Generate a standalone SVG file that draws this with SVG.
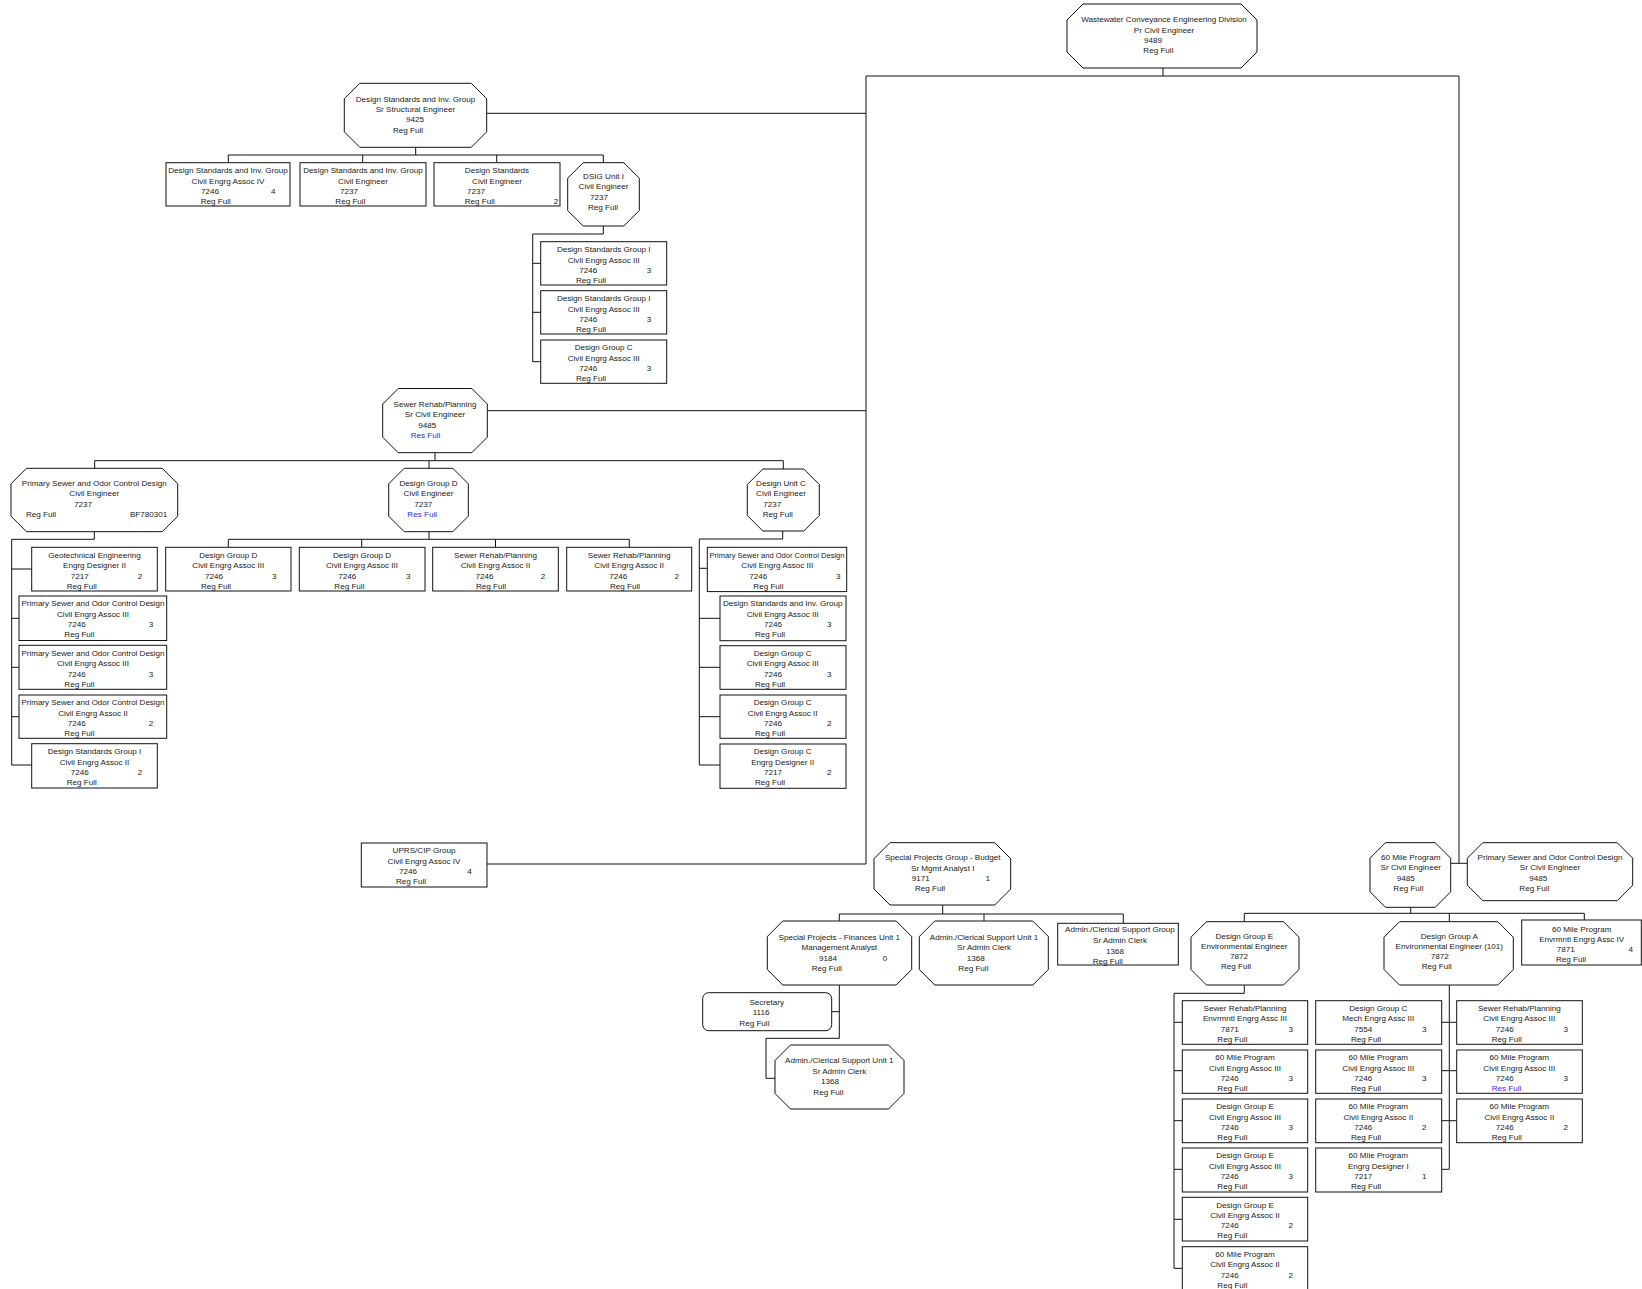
<svg xmlns="http://www.w3.org/2000/svg" width="1642" height="1289" viewBox="0 0 1642 1289">
<style>
.n rect,.n polygon{fill:#fff;stroke:#111;stroke-width:1}
#conn path{fill:none;stroke:#111;stroke-width:1}
text{font-family:"Liberation Sans",Arial,sans-serif;font-size:8.1px;fill:#1a1a1a}
.m{text-anchor:middle}
.b{fill:#2b2bff}
</style>
<rect width="1642" height="1289" fill="#fff"/>
<g id="conn">
<path d="M1163,68V76M866,76H1459M866,76V864M1459,76V863.3"/>
<path d="M486.7,113.3H866M487.3,410.7H866M487,864H866M1450.7,863.3H1467.3"/>
<path d="M415.7,147.3V155M228.3,155H603.3M228.3,155V162.7M362.7,155V162.7M496.7,155V162.7M603.3,155V162.7"/>
<path d="M603.3,226V234H532.7V361.7M532.7,263.3H540.7M532.7,312.3H540.7M532.7,361.7H540.7"/>
<path d="M435,452.7V460.7M94.7,460.7H783.3M94.7,460.7V468.3M429,460.7V468.3M783.3,460.7V469"/>
<path d="M94.3,531.7V539.3H11.7V765M11.7,569H31.7M11.7,618.3H19M11.7,667.3H19M11.7,716.7H19M11.7,765H31.7"/>
<path d="M429,531.7V539.3M228.3,539.3H629.3M228.3,539.3V547.3M361.7,539.3V547.3M495.5,539.3V547.3M629.3,539.3V547.3"/>
<path d="M782.7,531V539H699.3V765M699.3,568.3H707.3M699.3,618.3H720M699.3,667.3H720M699.3,716.7H720M699.3,765H720"/>
<path d="M942.7,905V914M839.3,914H1123.3M839.3,914V921M984,914V921M1123.3,914V923.3"/>
<path d="M839.3,985V1038.3H766V1078.3H775M831.7,1011.7H839.3"/>
<path d="M1410.7,907.3V913.3M1244.3,913.3H1584.3M1244.3,913.3V921.7M1449.3,913.3V921.7M1584.3,913.3V920"/>
<path d="M1244.3,985V993.3H1174V1268.3M1174,1022.3H1182.3M1174,1070.7H1182.3M1174,1120.7H1182.3M1174,1169.3H1182.3M1174,1219.3H1182.3M1174,1268.3H1182.3"/>
<path d="M1449.3,985V1169.3M1441.7,1022.3H1456.7M1441.7,1070.7H1456.7M1441.7,1120.7H1456.7M1441.7,1169.3H1449.3"/>
</g>

<g id="root" class="n"><polygon points="1083,4 1241,4 1257,20 1257,52 1241,68 1083,68 1067,52 1067,20"/>
<text x="1164" y="22.2" class="m">Wastewater Conveyance Engineering Division</text><text x="1164" y="32.6" class="m">Pr Civil Engineer</text><text x="1144" y="43">9489</text><text x="1143.3" y="53.2">Reg Full</text></g>

<g id="dsig" class="n"><polygon points="359.8,83.3 471.2,83.3 486.7,98.8 486.7,131.8 471.2,147.3 359.8,147.3 344.3,131.8 344.3,98.8"/>
<text x="415.5" y="101.5" class="m">Design Standards and Inv. Group</text><text x="415.5" y="111.9" class="m">Sr Structural Engineer</text><text x="406" y="122.3">9425</text><text x="393" y="132.5">Reg Full</text></g>

<g id="c1" class="n"><rect x="166" y="162.7" width="124" height="43.3"/>
<text x="228" y="173.1" class="m">Design Standards and Inv. Group</text><text x="228" y="183.5" class="m">Civil Engrg Assoc IV</text><text x="201" y="194">7246</text><text x="273.3" y="194" class="m">4</text><text x="200.7" y="204">Reg Full</text></g>
<g id="c2" class="n"><rect x="300" y="162.7" width="126" height="43.3"/>
<text x="363" y="173.1" class="m">Design Standards and Inv. Group</text><text x="363" y="183.5" class="m">Civil Engineer</text><text x="340" y="194">7237</text><text x="335.3" y="204">Reg Full</text></g>
<g id="c3" class="n"><rect x="434" y="162.7" width="126" height="43.3"/>
<text x="497" y="173.1" class="m">Design Standards</text><text x="497" y="183.5" class="m">Civil Engineer</text><text x="467" y="194">7237</text><text x="464.7" y="204">Reg Full</text><text x="556" y="204" class="m">2</text></g>
<g id="dsig1" class="n"><polygon points="583.2,162.7 623.8,162.7 639.3,178.2 639.3,210.5 623.8,226 583.2,226 567.7,210.5 567.7,178.2"/>
<text x="603.5" y="179" class="m">DSIG Unit I</text><text x="603.5" y="189.4" class="m">Civil Engineer</text><text x="590" y="199.8">7237</text><text x="588" y="210">Reg Full</text></g>

<g id="b1" class="n"><rect x="540.7" y="241.7" width="126" height="43.3"/>
<text x="603.7" y="252.1" class="m">Design Standards Group I</text><text x="603.7" y="262.5" class="m">Civil Engrg Assoc III</text><text x="579.3" y="273">7246</text><text x="649" y="273" class="m">3</text><text x="576" y="283">Reg Full</text></g>
<g id="b2" class="n"><rect x="540.7" y="290.7" width="126" height="43.3"/>
<text x="603.7" y="301.1" class="m">Design Standards Group I</text><text x="603.7" y="311.5" class="m">Civil Engrg Assoc III</text><text x="579.3" y="322">7246</text><text x="649" y="322" class="m">3</text><text x="576" y="332">Reg Full</text></g>
<g id="b3" class="n"><rect x="540.7" y="340" width="126" height="43.3"/>
<text x="603.7" y="350.4" class="m">Design Group C</text><text x="603.7" y="360.8" class="m">Civil Engrg Assoc III</text><text x="579.3" y="371.3">7246</text><text x="649" y="371.3" class="m">3</text><text x="576" y="381.3">Reg Full</text></g>

<g id="sewer" class="n"><polygon points="398.2,388.5 471.8,388.5 487.3,404 487.3,437.2 471.8,452.7 398.2,452.7 382.7,437.2 382.7,404"/>
<text x="435" y="407" class="m">Sewer Rehab/Planning</text><text x="435" y="417.4" class="m">Sr Civil Engineer</text><text x="418.3" y="427.8">9485</text><text x="410.7" y="438" class="b">Res Full</text></g>

<g id="psocd" class="n"><polygon points="26.5,468.3 162.2,468.3 177.7,483.8 177.7,516.2 162.2,531.7 26.5,531.7 11,516.2 11,483.8"/>
<text x="94.3" y="485.7" class="m">Primary Sewer and Odor Control Design</text><text x="94.3" y="496.1" class="m">Civil Engineer</text><text x="74" y="506.5">7237</text><text x="26" y="516.7">Reg Full</text><text x="167.3" y="516.7" style="text-anchor:end">BF780301</text></g>
<g id="geo" class="n"><rect x="31.7" y="547.3" width="125.6" height="43.7"/>
<text x="94.5" y="557.7" class="m">Geotechnical Engineering</text><text x="94.5" y="568.1" class="m">Engrg Designer II</text><text x="70.7" y="578.6">7217</text><text x="140" y="578.6" class="m">2</text><text x="66.7" y="588.6">Reg Full</text></g>
<g id="ps1" class="n"><rect x="19" y="596" width="147.7" height="44.5"/>
<text x="93" y="606.4" class="m" textLength="143" lengthAdjust="spacingAndGlyphs">Primary Sewer and Odor Control Design</text><text x="93" y="616.8" class="m">Civil Engrg Assoc III</text><text x="67.7" y="627.3">7246</text><text x="151" y="627.3" class="m">3</text><text x="64.3" y="637.3">Reg Full</text></g>
<g id="ps2" class="n"><rect x="19" y="645.3" width="147.7" height="44"/>
<text x="93" y="655.9" class="m" textLength="143" lengthAdjust="spacingAndGlyphs">Primary Sewer and Odor Control Design</text><text x="93" y="666.3" class="m">Civil Engrg Assoc III</text><text x="67.7" y="676.8">7246</text><text x="151" y="676.8" class="m">3</text><text x="64.3" y="686.8">Reg Full</text></g>
<g id="ps3" class="n"><rect x="19" y="695" width="147.7" height="43.3"/>
<text x="93" y="705.4" class="m" textLength="143" lengthAdjust="spacingAndGlyphs">Primary Sewer and Odor Control Design</text><text x="93" y="715.8" class="m">Civil Engrg Assoc II</text><text x="67.7" y="726.3">7246</text><text x="151" y="726.3" class="m">2</text><text x="64.3" y="736.3">Reg Full</text></g>
<g id="dsg1" class="n"><rect x="31.7" y="743.7" width="125.6" height="44.3"/>
<text x="94.5" y="754.2" class="m">Design Standards Group I</text><text x="94.5" y="764.6" class="m">Civil Engrg Assoc II</text><text x="70.7" y="775.1">7246</text><text x="140" y="775.1" class="m">2</text><text x="66.7" y="785.1">Reg Full</text></g>

<g id="dgd" class="n"><polygon points="404.2,468.3 452.8,468.3 468.3,483.8 468.3,516.2 452.8,531.7 404.2,531.7 388.7,516.2 388.7,483.8"/>
<text x="428.5" y="485.7" class="m">Design Group D</text><text x="428.5" y="496.1" class="m">Civil Engineer</text><text x="414.3" y="506.5">7237</text><text x="407.3" y="516.7" class="b">Res Full</text></g>
<g id="d1" class="n"><rect x="165.7" y="547.3" width="125.3" height="43.7"/>
<text x="228.3" y="557.7" class="m">Design Group D</text><text x="228.3" y="568.1" class="m">Civil Engrg Assoc III</text><text x="205" y="578.6">7246</text><text x="274.3" y="578.6" class="m">3</text><text x="201" y="588.6">Reg Full</text></g>
<g id="d2" class="n"><rect x="299.3" y="547.3" width="125.7" height="43.7"/>
<text x="362" y="557.7" class="m">Design Group D</text><text x="362" y="568.1" class="m">Civil Engrg Assoc III</text><text x="338.3" y="578.6">7246</text><text x="408.3" y="578.6" class="m">3</text><text x="334.3" y="588.6">Reg Full</text></g>
<g id="d3" class="n"><rect x="432.7" y="547.3" width="125.6" height="43.7"/>
<text x="495.5" y="557.7" class="m">Sewer Rehab/Planning</text><text x="495.5" y="568.1" class="m">Civil Engrg Assoc II</text><text x="475.5" y="578.6">7246</text><text x="543" y="578.6" class="m">2</text><text x="476" y="588.6">Reg Full</text></g>
<g id="d4" class="n"><rect x="566.7" y="547.3" width="125" height="43.7"/>
<text x="629.2" y="557.7" class="m">Sewer Rehab/Planning</text><text x="629.2" y="568.1" class="m">Civil Engrg Assoc II</text><text x="609.3" y="578.6">7246</text><text x="676.7" y="578.6" class="m">2</text><text x="610" y="588.6">Reg Full</text></g>

<g id="duc" class="n"><polygon points="762.8,469 803.8,469 819.3,484.5 819.3,515.5 803.8,531 762.8,531 747.3,515.5 747.3,484.5"/>
<text x="781" y="485.7" class="m">Design Unit C</text><text x="781" y="496.1" class="m">Civil Engineer</text><text x="763.3" y="506.5">7237</text><text x="762.7" y="516.7">Reg Full</text></g>
<g id="u1" class="n"><rect x="707.3" y="547.3" width="139.4" height="44.3"/>
<text x="777" y="557.7" class="m" textLength="135" lengthAdjust="spacingAndGlyphs">Primary Sewer and Odor Control Design</text><text x="777.3" y="568.1" class="m">Civil Engrg Assoc III</text><text x="749.3" y="578.6">7246</text><text x="838.3" y="578.6" class="m">3</text><text x="753.3" y="588.6">Reg Full</text></g>
<g id="u2" class="n"><rect x="720" y="596" width="126" height="44.7"/>
<text x="782.7" y="606.4" class="m">Design Standards and Inv. Group</text><text x="782.7" y="616.8" class="m">Civil Engrg Assoc III</text><text x="764" y="627.3">7246</text><text x="829.3" y="627.3" class="m">3</text><text x="755" y="637.3">Reg Full</text></g>
<g id="u3" class="n"><rect x="720" y="645.7" width="126" height="43.6"/>
<text x="782.7" y="655.9" class="m">Design Group C</text><text x="782.7" y="666.3" class="m">Civil Engrg Assoc III</text><text x="764" y="676.8">7246</text><text x="829.3" y="676.8" class="m">3</text><text x="755" y="686.8">Reg Full</text></g>
<g id="u4" class="n"><rect x="720" y="695" width="126" height="43.3"/>
<text x="782.7" y="705.4" class="m">Design Group C</text><text x="782.7" y="715.8" class="m">Civil Engrg Assoc II</text><text x="764" y="726.3">7246</text><text x="829.3" y="726.3" class="m">2</text><text x="755" y="736.3">Reg Full</text></g>
<g id="u5" class="n"><rect x="720" y="744" width="126" height="44.3"/>
<text x="782.7" y="754.4" class="m">Design Group C</text><text x="782.7" y="764.8" class="m">Engrg Designer II</text><text x="764" y="775.3">7217</text><text x="829.3" y="775.3" class="m">2</text><text x="755" y="785.3">Reg Full</text></g>

<g id="uprs" class="n"><rect x="361.3" y="843" width="125.7" height="44"/>
<text x="424" y="853.4" class="m">UPRS/CIP Group</text><text x="424" y="863.8" class="m">Civil Engrg Assoc IV</text><text x="399" y="874.3">7246</text><text x="469.5" y="874.3" class="m">4</text><text x="396" y="884.3">Reg Full</text></g>

<g id="sp" class="n"><polygon points="890,842.7 994.7,842.7 1010.7,858.7 1010.7,889 994.7,905 890,905 874,889 874,858.7"/>
<text x="942.7" y="860.3" class="m">Special Projects Group - Budget</text><text x="942.7" y="870.8" class="m">Sr Mgmt Analyst I</text><text x="911.7" y="881.4">9171</text><text x="987.7" y="881.4" class="m">1</text><text x="915" y="891.3">Reg Full</text></g>
<g id="spf" class="n"><polygon points="782.8,921 896.2,921 911.7,936.5 911.7,969.5 896.2,985 782.8,985 767.3,969.5 767.3,936.5"/>
<text x="839.3" y="939.7" class="m">Special Projects - Finances Unit 1</text><text x="839.3" y="950.2" class="m">Management Analyst</text><text x="819" y="960.8">9184</text><text x="885" y="960.8" class="m">0</text><text x="811.7" y="971">Reg Full</text></g>
<g id="au1" class="n"><polygon points="934.8,921 1032.8,921 1048.3,936.5 1048.3,969.5 1032.8,985 934.8,985 919.3,969.5 919.3,936.5"/>
<text x="984" y="939.7" class="m">Admin./Clerical Support Unit 1</text><text x="984" y="950.2" class="m">Sr Admin Clerk</text><text x="966.7" y="960.8">1368</text><text x="958.3" y="971">Reg Full</text></g>
<g id="asg" class="n"><rect x="1057.7" y="923.3" width="120.6" height="41.7"/>
<text x="1120" y="932.3" class="m">Admin./Clerical Support Group</text><text x="1120" y="943" class="m">Sr Admin Clerk</text><text x="1106" y="953.7">1368</text><text x="1092.7" y="964">Reg Full</text></g>
<g id="sec" class="n"><rect x="702.7" y="992.7" width="129" height="38" rx="6" ry="6"/>
<text x="766.7" y="1005.3" class="m">Secretary</text><text x="752.7" y="1015.3">1116</text><text x="739.3" y="1025.7">Reg Full</text></g>
<g id="au1b" class="n"><polygon points="790.5,1045 888.5,1045 904,1060.5 904,1093.5 888.5,1109 790.5,1109 775,1093.5 775,1060.5"/>
<text x="839.3" y="1063" class="m">Admin./Clerical Support Unit 1</text><text x="839.3" y="1073.6" class="m">Sr Admin Clerk</text><text x="821" y="1084">1368</text><text x="813.3" y="1095.3">Reg Full</text></g>

<g id="m60" class="n"><polygon points="1385.5,842.7 1435.2,842.7 1450.7,858.2 1450.7,891.8 1435.2,907.3 1385.5,907.3 1370,891.8 1370,858.2"/>
<text x="1410.7" y="859.7" class="m">60 Mile Program</text><text x="1410.7" y="870.3" class="m">Sr Civil Engineer</text><text x="1396.7" y="881.3">9485</text><text x="1393.3" y="891.3">Reg Full</text></g>
<g id="psr" class="n"><polygon points="1482.8,842.7 1617.2,842.7 1632.7,858.2 1632.7,885.2 1617.2,900.7 1482.8,900.7 1467.3,885.2 1467.3,858.2"/>
<text x="1550" y="859.7" class="m">Primary Sewer and Odor Control Design</text><text x="1550" y="870.3" class="m">Sr Civil Engineer</text><text x="1529.3" y="881.3">9485</text><text x="1519.3" y="891.3">Reg Full</text></g>
<g id="dge" class="n"><polygon points="1206.5,921.7 1283.5,921.7 1299,937.2 1299,969.5 1283.5,985 1206.5,985 1191,969.5 1191,937.2"/>
<text x="1244.3" y="938.7" class="m">Design Group E</text><text x="1244.3" y="948.7" class="m">Environmental Engineer</text><text x="1230" y="958.7">7872</text><text x="1221" y="968.7">Reg Full</text></g>
<g id="dga" class="n"><polygon points="1399.5,921.7 1497.8,921.7 1513.3,937.2 1513.3,969.5 1497.8,985 1399.5,985 1384,969.5 1384,937.2"/>
<text x="1449.3" y="938.7" class="m">Design Group A</text><text x="1449.3" y="948.7" class="m">Environmental Engineer (101)</text><text x="1430.7" y="958.7">7872</text><text x="1421.7" y="968.7">Reg Full</text></g>
<g id="m60r" class="n"><rect x="1521.7" y="920" width="119.6" height="45"/>
<text x="1581.7" y="931.7" class="m">60 Mile Program</text><text x="1581.7" y="941.7" class="m">Envrmntl Engrg Assc IV</text><text x="1556.7" y="952.3">7871</text><text x="1630.7" y="952.3" class="m">4</text><text x="1556" y="962.3">Reg Full</text></g>

<g id="e1" class="n"><rect x="1182.3" y="1000.7" width="125.4" height="43.6"/>
<text x="1245" y="1010.9" class="m">Sewer Rehab/Planning</text><text x="1245" y="1021.2" class="m">Envrmntl Engrg Assc III</text><text x="1220.7" y="1031.7">7871</text><text x="1290.7" y="1031.7" class="m">3</text><text x="1217.3" y="1041.7">Reg Full</text></g>
<g id="e2" class="n"><rect x="1182.3" y="1050" width="125.4" height="43.3"/>
<text x="1245" y="1060.2" class="m">60 Mile Program</text><text x="1245" y="1070.5" class="m">Civil Engrg Assoc III</text><text x="1220.7" y="1081">7246</text><text x="1290.7" y="1081" class="m">3</text><text x="1217.3" y="1091">Reg Full</text></g>
<g id="e3" class="n"><rect x="1182.3" y="1099" width="125.4" height="43.7"/>
<text x="1245" y="1109.2" class="m">Design Group E</text><text x="1245" y="1119.5" class="m">Civil Engrg Assoc III</text><text x="1220.7" y="1130">7246</text><text x="1290.7" y="1130" class="m">3</text><text x="1217.3" y="1140">Reg Full</text></g>
<g id="e4" class="n"><rect x="1182.3" y="1148" width="125.4" height="44"/>
<text x="1245" y="1158.2" class="m">Design Group E</text><text x="1245" y="1168.5" class="m">Civil Engrg Assoc III</text><text x="1220.7" y="1179">7246</text><text x="1290.7" y="1179" class="m">3</text><text x="1217.3" y="1189">Reg Full</text></g>
<g id="e5" class="n"><rect x="1182.3" y="1197.3" width="125.4" height="43.7"/>
<text x="1245" y="1207.5" class="m">Design Group E</text><text x="1245" y="1217.8" class="m">Civil Engrg Assoc II</text><text x="1220.7" y="1228.3">7246</text><text x="1290.7" y="1228.3" class="m">2</text><text x="1217.3" y="1238.3">Reg Full</text></g>
<g id="e6" class="n"><rect x="1182.3" y="1246.7" width="125.4" height="44"/>
<text x="1245" y="1256.9" class="m">60 Mile Program</text><text x="1245" y="1267.2" class="m">Civil Engrg Assoc II</text><text x="1220.7" y="1277.7">7246</text><text x="1290.7" y="1277.7" class="m">2</text><text x="1217.3" y="1287.5">Reg Full</text></g>

<g id="a1" class="n"><rect x="1315.7" y="1000.7" width="126" height="43.6"/>
<text x="1378.3" y="1010.9" class="m">Design Group C</text><text x="1378.3" y="1021.2" class="m">Mech Engrg Assc III</text><text x="1354.3" y="1031.7">7554</text><text x="1424.3" y="1031.7" class="m">3</text><text x="1351" y="1041.7">Reg Full</text></g>
<g id="a2" class="n"><rect x="1315.7" y="1050" width="126" height="43.3"/>
<text x="1378.3" y="1060.2" class="m">60 Mile Program</text><text x="1378.3" y="1070.5" class="m">Civil Engrg Assoc III</text><text x="1354.3" y="1081">7246</text><text x="1424.3" y="1081" class="m">3</text><text x="1351" y="1091">Reg Full</text></g>
<g id="a3" class="n"><rect x="1315.7" y="1099" width="126" height="43.7"/>
<text x="1378.3" y="1109.2" class="m">60 Mile Program</text><text x="1378.3" y="1119.5" class="m">Civil Engrg Assoc II</text><text x="1354.3" y="1130">7246</text><text x="1424.3" y="1130" class="m">2</text><text x="1351" y="1140">Reg Full</text></g>
<g id="a4" class="n"><rect x="1315.7" y="1148" width="126" height="44"/>
<text x="1378.3" y="1158.2" class="m">60 Mile Program</text><text x="1378.3" y="1168.5" class="m">Engrg Designer I</text><text x="1354.3" y="1179">7217</text><text x="1424.3" y="1179" class="m">1</text><text x="1351" y="1189">Reg Full</text></g>

<g id="r1" class="n"><rect x="1456.7" y="1000.7" width="125.6" height="43.6"/>
<text x="1519.3" y="1010.9" class="m">Sewer Rehab/Planning</text><text x="1519.3" y="1021.2" class="m">Civil Engrg Assoc III</text><text x="1495.7" y="1031.7">7246</text><text x="1565.7" y="1031.7" class="m">3</text><text x="1491.7" y="1041.7">Reg Full</text></g>
<g id="r2" class="n"><rect x="1456.7" y="1050" width="125.6" height="43.3"/>
<text x="1519.3" y="1060.2" class="m">60 Mile Program</text><text x="1519.3" y="1070.5" class="m">Civil Engrg Assoc III</text><text x="1495.7" y="1081">7246</text><text x="1565.7" y="1081" class="m">3</text><text x="1491.7" y="1091" class="b">Res Full</text></g>
<g id="r3" class="n"><rect x="1456.7" y="1099" width="125.6" height="43.7"/>
<text x="1519.3" y="1109.2" class="m">60 Mile Program</text><text x="1519.3" y="1119.5" class="m">Civil Engrg Assoc II</text><text x="1495.7" y="1130">7246</text><text x="1565.7" y="1130" class="m">2</text><text x="1491.7" y="1140">Reg Full</text></g>
</svg>
